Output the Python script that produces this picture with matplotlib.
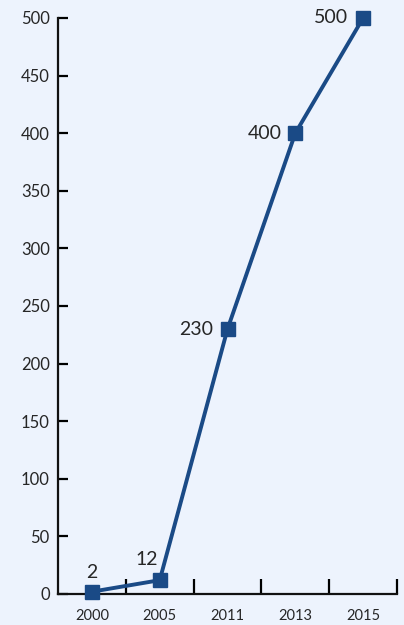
import matplotlib.pyplot as plt
import numpy as np

years = ["2000", "2005", "2011", "2013", "2015"]
values = [2, 12, 230, 400, 500]
yticks = [0, 50, 100, 150, 200, 250, 300, 350, 400, 450, 500]

bg = "#edf3fd"
linec = "#1a4a86"
txt = "#262626"
plt.rcParams['font.family'] = ['Lato', 'DejaVu Sans']

fig = plt.figure(figsize=(4.04, 6.25), dpi=100, facecolor=bg)
ax = fig.add_axes([0.1436, 0.0496, 0.8391, 0.9216])
ax.set_facecolor(bg)

x = np.arange(len(years))
ax.plot(x, values, '-', color=linec, linewidth=2.8, marker='s', markersize=9.5, clip_on=False, zorder=3)

# etiquetas de datos
offs = [(0, 8, 'center', 'bottom'), (-9, 9, 'center', 'bottom'),
        (-10, 0, 'right', 'center'), (-10, 0, 'right', 'center'), (-11, 0, 'right', 'center')]
for xi, v, (dx, dy, ha, va) in zip(x, values, offs):
    ax.annotate(str(v), (xi, v), xytext=(dx, dy), textcoords='offset points',
                ha=ha, va=va, fontsize=14, color=txt)

ax.set_xlim(-0.5, len(years) - 0.5)
ax.set_ylim(0, 500)
ax.set_yticks(yticks)
ax.set_xticks(x)
ax.set_xticklabels(years)
ax.set_xticks(np.arange(len(years)) + 0.5, minor=True)

for s in ['top', 'right']:
    ax.spines[s].set_visible(False)
for s in ['left', 'bottom']:
    ax.spines[s].set_linewidth(1.6)
    ax.spines[s].set_color('#111111')

ax.tick_params(axis='y', direction='in', length=7, width=1.6, labelsize=12, labelcolor=txt, pad=6)
ax.tick_params(axis='x', which='major', length=0, labelsize=10.5, labelcolor=txt, pad=11)
ax.tick_params(axis='x', which='minor', direction='in', length=11, width=1.6)

plt.savefig("out.png", dpi=100, facecolor=bg)
